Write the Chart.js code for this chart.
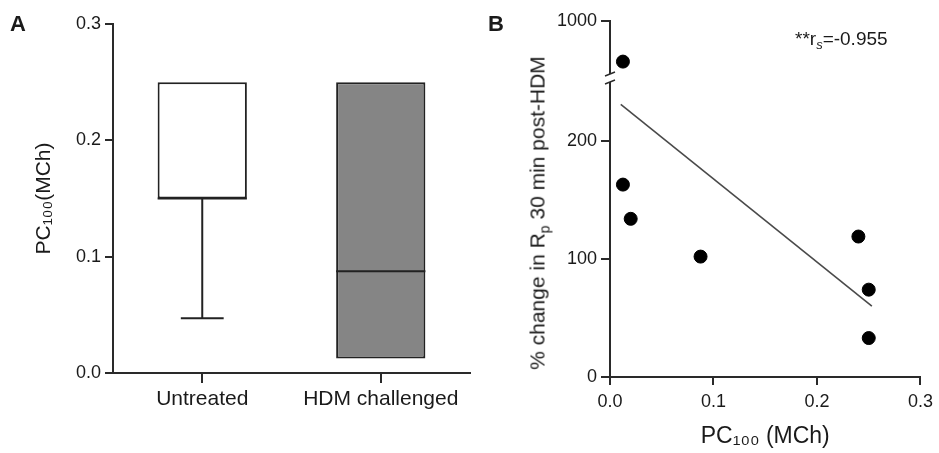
<!DOCTYPE html>
<html>
<head>
<meta charset="utf-8">
<script src="https://cdn.jsdelivr.net/npm/chart.js@4.4.1/dist/chart.umd.min.js"></script>
<style>
  html, body { margin: 0; padding: 0; background: #fff; }
  body { width: 939px; height: 453px; position: relative; overflow: hidden;
         font-family: "Liberation Sans", Arial, sans-serif; color: #1a1a1a; }
  #wrapA { position: absolute; left: 0; top: 0; }
  #wrapB { position: absolute; left: 480px; top: 0; }
  .panel { position: absolute; font-weight: bold; font-size: 22px; line-height: 1; }
  #rs { position: absolute; left: 795px; top: 29px; font-size: 19px; line-height: 1; white-space: nowrap; }
  #rs sub { font-size: 13px; font-style: italic; vertical-align: -4px; line-height: 0; }
  #rpTitle { position: absolute; left: 537px; top: 213px; white-space: nowrap; font-size: 21px; line-height: 1;
             transform: translate(-50%, -50%) rotate(-90deg); }
  #rpTitle sub { font-size: 14px; vertical-align: -5px; line-height: 0; }
</style>
</head>
<body>
<div id="wrapA"><canvas id="chartA" width="480" height="453"></canvas></div>
<div id="wrapB"><canvas id="chartB" width="459" height="453"></canvas></div>
<div class="panel" style="left:10px;top:13px;">A</div>
<div class="panel" style="left:488px;top:13px;">B</div>
<div id="rs">**r<sub>s</sub>=-0.955</div>
<div id="rpTitle">% change in R<sub>p</sub> 30 min post-HDM</div>

<script>
// ── Panel A: box plot of PC100 ──
const groups = ['Untreated', 'HDM challenged'];
const boxMin = [0.047, 0.0125];
const boxQ1 = [0.15, 0.0125];
const boxMedian = [0.15, 0.0875];
const boxQ3 = [0.25, 0.25];
const boxMax = [0.25, 0.25];
const boxFill = ['#ffffff', '#858585'];
const yTicksA = [0, 0.1, 0.2, 0.3];

// ── Panel B: PC100 vs % change in Rp ──
const pc100 = [0.0125, 0.0125, 0.02, 0.0875, 0.24, 0.25, 0.25];
const rpChange = [450, 163, 134, 102, 119, 74, 33];
const fitX = [0.0104, 0.253];
const fitY = [231, 60];
const xTicksB = [0, 0.1, 0.2, 0.3];
const yTicksLow = [0, 100, 200];
const yTicksHigh = [1000];
const lowMax = 255;   // axis break

const AXIS = '#2a2a2a';
const TEXT = '#1a1a1a';
const FONT = 'Liberation Sans, Arial, sans-serif';

// whiskers + median lines drawn from the data arrays
const boxWhiskers = {
  id: 'boxWhiskers',
  afterDatasetsDraw(chart) {
    const { ctx, scales: { x, y } } = chart;
    const bar = chart.getDatasetMeta(0).data[0];
    const w = bar.width;
    ctx.save();
    ctx.strokeStyle = '#222';
    ctx.lineWidth = 2;
    groups.forEach((g, i) => {
      const cx = x.getPixelForValue(i);
      const seg = (a, b) => { ctx.beginPath(); ctx.moveTo(a[0], a[1]); ctx.lineTo(b[0], b[1]); ctx.stroke(); };
      if (boxMin[i] < boxQ1[i]) {
        seg([cx, y.getPixelForValue(boxQ1[i])], [cx, y.getPixelForValue(boxMin[i])]);
        seg([cx - w * 0.24, y.getPixelForValue(boxMin[i])], [cx + w * 0.24, y.getPixelForValue(boxMin[i])]);
      }
      if (boxMax[i] > boxQ3[i]) {
        seg([cx, y.getPixelForValue(boxQ3[i])], [cx, y.getPixelForValue(boxMax[i])]);
        seg([cx - w * 0.24, y.getPixelForValue(boxMax[i])], [cx + w * 0.24, y.getPixelForValue(boxMax[i])]);
      }
      const my = y.getPixelForValue(boxMedian[i]);
      seg([cx - w / 2, my], [cx + w / 2, my]);
    });
    ctx.restore();
  }
};

new Chart(document.getElementById('chartA'), {
  type: 'bar',
  data: {
    labels: groups,
    datasets: [{
      data: groups.map((g, i) => [boxQ1[i], boxQ3[i]]),
      backgroundColor: boxFill,
      borderColor: '#222',
      borderWidth: 2,
      borderSkipped: false,
      barPercentage: 0.5,
      categoryPercentage: 1
    }]
  },
  options: {
    responsive: false,
    animation: false,
    layout: { padding: { top: 24, right: 10, left: 0, bottom: 0 } },
    plugins: { legend: { display: false }, tooltip: { enabled: false } },
    scales: {
      x: {
        grid: { drawOnChartArea: false, offset: false, tickLength: 10, color: AXIS, lineWidth: 2 },
        border: { color: AXIS, width: 2 },
        ticks: { color: TEXT, font: { family: FONT, size: 21 }, padding: 4 },
        afterFit: s => { s.height = 80; }
      },
      y: {
        min: 0, max: 0.3,
        afterBuildTicks: s => { s.ticks = yTicksA.map(v => ({ value: v })); },
        grid: { drawOnChartArea: false, tickLength: 8, color: AXIS, lineWidth: 2 },
        border: { color: AXIS, width: 2 },
        ticks: { color: TEXT, font: { family: FONT, size: 18 }, padding: 4, callback: v => v.toFixed(1) },
        title: { display: true, text: 'PC₁₀₀(MCh)', color: TEXT, font: { family: FONT, size: 21 }, padding: { top: 32, bottom: 0 } },
        afterFit: s => { s.width = 113; }
      }
    }
  },
  plugins: [boxWhiskers]
});

// axis break marks on the stacked y axes
const axisBreak = {
  id: 'axisBreak',
  afterDraw(chart) {
    const { ctx } = chart;
    const top = chart.scales.yTop;
    const xPos = top.right;
    const yb = top.bottom + 2;
    ctx.save();
    ctx.fillStyle = '#fff';
    ctx.fillRect(xPos - 3, yb - 4, 6, 8);
    ctx.strokeStyle = AXIS;
    ctx.lineWidth = 1.5;
    [-4, 4].forEach(d => {
      ctx.beginPath();
      ctx.moveTo(xPos - 5, yb + d + 2);
      ctx.lineTo(xPos + 5, yb + d - 2);
      ctx.stroke();
    });
    ctx.restore();
  }
};

const lowPts = [], highPts = [];
pc100.forEach((x, i) => {
  (rpChange[i] > lowMax ? highPts : lowPts).push({ x, y: rpChange[i] });
});

const yCommon = {
  type: 'linear', position: 'left', stack: 'rp',
  grid: { drawOnChartArea: false, tickLength: 9, color: AXIS, lineWidth: 2 },
  border: { color: AXIS, width: 2 },
  ticks: { color: TEXT, font: { family: FONT, size: 18 }, padding: 4, callback: v => String(v) },
  afterFit: s => { s.width = 130; }
};

new Chart(document.getElementById('chartB'), {
  type: 'scatter',
  data: {
    datasets: [
      { data: lowPts, yAxisID: 'y', backgroundColor: '#000', borderColor: '#000', pointRadius: 6.5 },
      { data: highPts, yAxisID: 'yTop', backgroundColor: '#000', borderColor: '#000', pointRadius: 6.5 },
      { type: 'line', data: fitX.map((x, i) => ({ x, y: fitY[i] })), yAxisID: 'y',
        borderColor: '#4a4a4a', borderWidth: 1.6, pointRadius: 0, fill: false }
    ]
  },
  options: {
    responsive: false,
    animation: false,
    layout: { padding: { top: 21, right: 13, left: 0, bottom: 0 } },
    plugins: { legend: { display: false }, tooltip: { enabled: false } },
    scales: {
      y: Object.assign({}, yCommon, {
        min: 0, max: lowMax, stackWeight: 301,
        afterBuildTicks: s => { s.ticks = yTicksLow.map(v => ({ value: v })); }
      }),
      yTop: Object.assign({}, yCommon, {
        min: lowMax, max: 1000, stackWeight: 55,
        afterBuildTicks: s => { s.ticks = yTicksHigh.map(v => ({ value: v })); }
      }),
      x: {
        type: 'linear', position: 'bottom', min: 0, max: 0.3,
        afterBuildTicks: s => { s.ticks = xTicksB.map(v => ({ value: v })); },
        grid: { drawOnChartArea: false, tickLength: 8, color: AXIS, lineWidth: 2 },
        border: { color: AXIS, width: 2 },
        ticks: { color: TEXT, font: { family: FONT, size: 18 }, padding: 6, callback: v => v.toFixed(1) },
        title: { display: true, text: 'PC₁₀₀ (MCh)', color: TEXT, font: { family: FONT, size: 23 }, padding: { top: 0, bottom: 3 } },
        afterFit: s => { s.height = 76; }
      }
    }
  },
  plugins: [axisBreak]
});
</script>
</body>
</html>
